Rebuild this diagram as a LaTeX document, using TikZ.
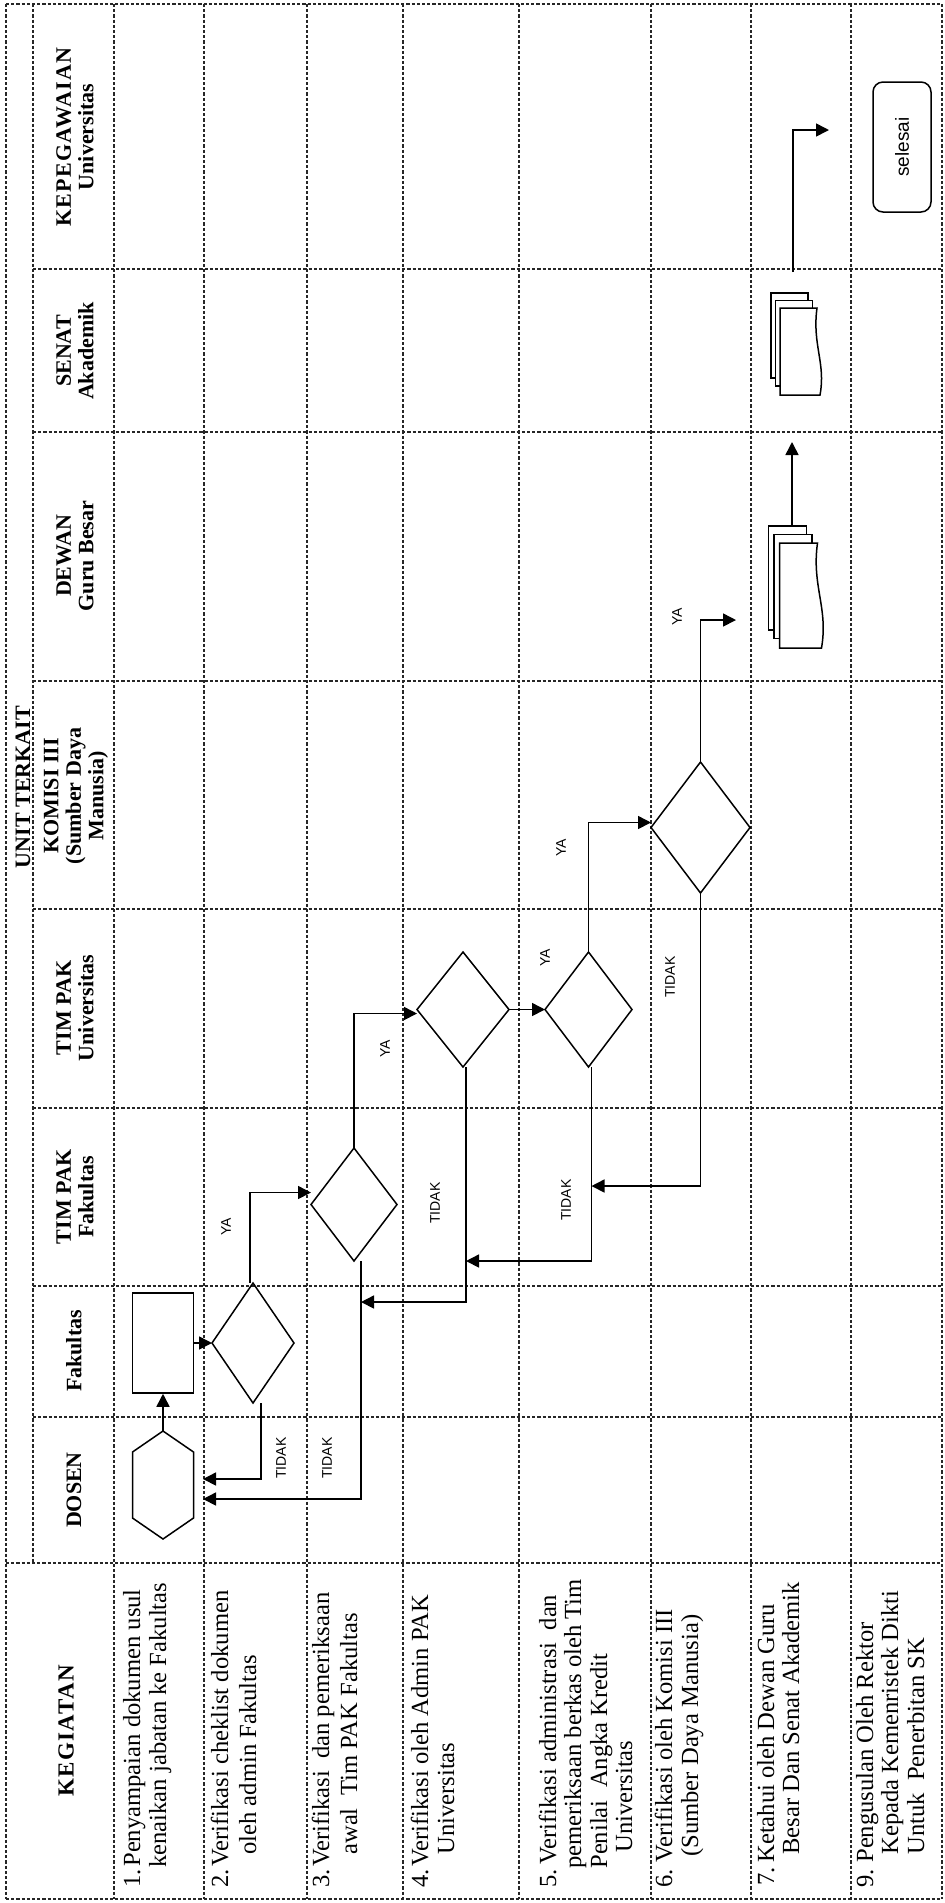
\documentclass[tikz,border=0pt]{standalone}
\usepackage{fontspec}
\setmainfont{Liberation Serif}
\newfontfamily\lsans{Liberation Sans}
\newfontfamily\spaced{Liberation Serif}[LetterSpace=6]
\usetikzlibrary{arrows.meta}
\begin{document}
\begin{tikzpicture}[x=0.5pt,y=-0.5pt,
  grid/.style={line width=0.6pt, dash pattern=on 1.6pt off 1pt, black!85},
  conn/.style={line width=0.8pt, -{Triangle[length=6.5pt,width=6.5pt]}},
  shp/.style={line width=0.75pt},
  holder/.style 2 args={inner sep=0pt, outer sep=0pt, minimum width=#1, minimum height=#2},
  hdr/.style={rotate=90, inner sep=0pt, align=center, font=\bfseries\fontsize{11}{11.25}\selectfont},
  body/.style={rotate=90, anchor=base west, inner sep=0pt, font=\fontsize{12.3}{14}\selectfont},
  lbl/.style={rotate=90, inner sep=0pt, font=\lsans\fontsize{7}{8}\selectfont}
]
\fill[white] (0,0) rectangle (944,1903);
\useasboundingbox (0,0) rectangle (944,1903);

% ---------------- table grid ----------------
\draw[grid] (6,4) -- (942,4);
\foreach \yy in {269,432,681,909,1108,1286,1417}
  \draw[grid] (33,\yy) -- (942,\yy);
\draw[grid] (6,1563) -- (942,1563);
\draw[grid] (6,1899) -- (942,1899);
\draw[grid] (6,4) -- (6,1899);
\draw[grid] (33,4) -- (33,1563);
\foreach \xx in {114,204,307,403,519,651,751,851,942}
  \draw[grid] (\xx,4) -- (\xx,1899);

% ---------------- headers ----------------
\node[hdr] (hunit) at (23,787) {UNIT TERKAIT};
\node[hdr] (hkep) at (75,137) {{\spaced KEPEGAWAIAN}\\Universitas};
\node[hdr] (hsen) at (75,351) {SENAT\\Akademik};
\node[hdr] (hdew) at (75,556) {DEWAN\\Guru Besar};
\node[hdr] (hkom) at (76,796) {KOMISI III\\(Sumber Daya\\Manusia)};
\node[hdr] (htpu) at (75,1008) {TIM PAK\\Universitas};
\node[hdr] (htpf) at (75,1197) {TIM PAK\\Fakultas};
\node[hdr] (hfak) at (74,1351) {Fakultas};
\node[hdr] (hdos) at (74,1490) {DOSEN};
\node[hdr, font=\spaced\bfseries\fontsize{11.5}{12}\selectfont] (hkeg) at (66,1731) {KEGIATAN};

% ---------------- activity texts ----------------
\node[body] (n1) at (140,1888) {1.};
\node[body] (r1a) at (140,1867) {Penyampaian dokumen usul};
\node[body] (r1b) at (166,1868) {kenaikan jabatan ke Fakultas};

\node[body] (n2) at (228,1888) {2.};
\node[body] (r2a) at (228,1867) {Verifikasi cheklist dokumen};
\node[body] (r2b) at (256,1855) {oleh admin Fakultas};

\node[body] (n3) at (329,1888) {3.};
\node[body] (r3a) at (329,1867) {Verifikasi\ \ dan pemeriksaan};
\node[body] (r3b) at (357,1855) {awal\ \ Tim PAK Fakultas};

\node[body] (n4) at (428,1888) {4.};
\node[body] (r4a) at (428,1867) {Verifikasi oleh Admin PAK};
\node[body] (r4b) at (454,1855) {Universitas};

\node[body] (n5) at (556,1888) {5.};
\node[body] (r5a) at (556,1865) {Verifikasi administrasi\ \ dan};
\node[body] (r5b) at (581,1869) {pemeriksaan berkas oleh Tim};
\node[body] (r5c) at (607,1869) {Penilai\ \ Angka Kredit};
\node[body] (r5d) at (632,1853) {Universitas};

\node[body] (n6) at (672,1888) {6.};
\node[body] (r6a) at (672,1863) {Verifikasi oleh Komisi III};
\node[body] (r6b) at (698,1857) {(Sumber Daya Manusia)};

\node[body] (n7) at (774,1886) {7.};
\node[body] (r7a) at (774,1863) {Ketahui oleh Dewan Guru};
\node[body] (r7b) at (799,1855) {Besar Dan Senat Akademik};

\node[body] (n9) at (873,1888) {9.};
\node[body] (r9a) at (873,1863) {Pengusulan Oleh Rektor};
\node[body] (r9b) at (898,1855) {Kepada Kemenristek Dikti};
\node[body] (r9c) at (924,1855) {Untuk\ \ Penerbitan SK};

% ---------------- flow shapes ----------------
\node[holder={30.5pt}{54pt}] (hex) at (163,1485) {};
\draw[shp, shift={(hex.center)}] (0,-54) -- (30.5,-33) -- (30.5,33) -- (0,54) -- (-30.5,33) -- (-30.5,-33) -- cycle;

\node[draw, shp, inner sep=0pt, minimum width=30.5pt, minimum height=50pt] (frect) at (163,1343) {};

\node[holder={41pt}{60pt}] (d1) at (253,1343) {};
\node[holder={43pt}{56.5pt}] (tpf) at (354,1204.5) {};
\node[holder={46pt}{57.5pt}] (tpu1) at (463,1009.5) {};
\node[holder={43.5pt}{57.5pt}] (tpu2) at (588.5,1009.5) {};
\node[holder={49.5pt}{65.5pt}] (kom) at (700.5,827.5) {};
\foreach \n in {d1,tpf,tpu1,tpu2,kom}
  \draw[shp] (\n.north) -- (\n.east) -- (\n.south) -- (\n.west) -- cycle;

% multi-document symbols
\node[holder={27pt}{61pt}] (dewan) at (795.5,587) {};
\begin{scope}[shift={(dewan.north west)}]
  \draw[shp, fill=white] (0,0) rectangle (38,104);
  \draw[shp, fill=white] (5.5,8.5) rectangle (43.5,112.5);
  \draw[shp, fill=white] (11,17) -- (49,17) .. controls (43,60) and (60,82) .. (53,122) -- (11,122) -- cycle;
\end{scope}

\node[holder={24pt}{51pt}] (senat) at (795,344) {};
\begin{scope}[shift={(senat.north west)}]
  \draw[shp, fill=white] (0,0) rectangle (37,85);
  \draw[shp, fill=white] (4.5,7.5) rectangle (41.5,93);
  \draw[shp, fill=white] (9,15) -- (46,15) .. controls (41,52) and (55,70) .. (49,102) -- (9,102) -- cycle;
\end{scope}

\node[draw, shp, rotate=90, rounded corners=5pt, inner sep=0pt, minimum width=65pt, minimum height=29pt,
      font=\lsans\fontsize{9.5}{10}\selectfont] (sel) at (902,147) {selesai};

% ---------------- connectors ----------------
\coordinate (j1) at (361,1302);
\coordinate (j2) at (466,1261);
\coordinate (j3) at (591.5,1186);
\coordinate (e1) at (736,620);
\coordinate (e2) at (792,442);
\coordinate (e4) at (829,130);

\draw[conn] (hex.north) -- (frect.south);
\draw[conn] (frect.east) -- (d1.west);
\draw[conn, shorten >=4.75pt] ([xshift=4pt]d1.south) |- ([yshift=3pt]hex.east);
\draw[conn, shorten >=4.75pt] ([xshift=3.5pt]tpf.south) |- ([yshift=-7pt]hex.east);
\draw[conn] ([xshift=-1.5pt]d1.north) |- ([yshift=6pt]tpf.west);
\draw[conn] (tpf.north) |- ([yshift=-2pt]tpu1.west);
\draw[conn] (tpu1.east) -- (tpu2.west);
\draw[conn] ([xshift=1.5pt]tpu1.south) |- (j1);
\draw[conn] ([xshift=1.5pt]tpu2.south) |- (j2);
\draw[conn] (tpu2.north) |- ([yshift=2.5pt]kom.west);
\draw[conn] (kom.south) |- (j3);
\draw[conn] (kom.north) |- (e1);
\draw[conn] (dewan.north -| e2) -- (e2);
\draw[conn, shorten <=10.5pt] ([xshift=-1pt]senat.north) |- (e4);

% ---------------- connector labels ----------------
\node[lbl] (lt1) at (281,1458) {TIDAK};
\node[lbl] (lt2) at (327,1458) {TIDAK};
\node[lbl] (lt3) at (435,1203) {TIDAK};
\node[lbl] (lt4) at (566,1200) {TIDAK};
\node[lbl] (lt5) at (670,977) {TIDAK};
\node[lbl] (ly1) at (226,1227) {YA};
\node[lbl] (ly2) at (385,1049) {YA};
\node[lbl] (ly3) at (545,958) {YA};
\node[lbl] (ly4) at (561,848) {YA};
\node[lbl] (ly5) at (677,617) {YA};
\end{tikzpicture}
\end{document}
